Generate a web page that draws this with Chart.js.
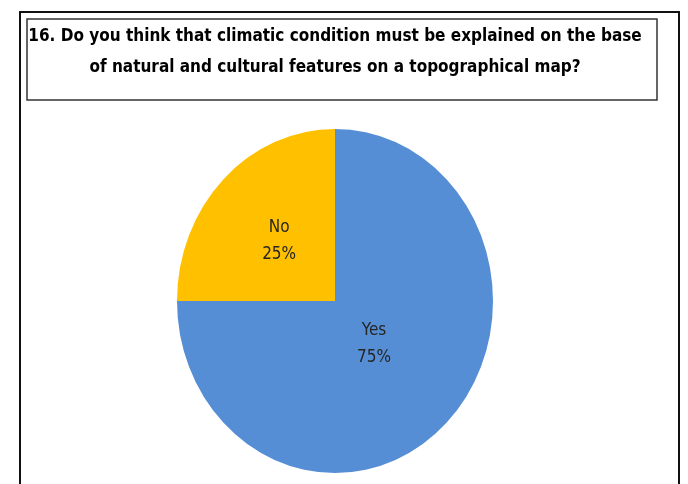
<!DOCTYPE html>
<html>
<head>
<meta charset="utf-8">
<script src="https://cdn.jsdelivr.net/npm/chart.js@4/dist/chart.umd.min.js"></script>
<style>
  body { margin: 0; background: #fff; }
  canvas { display: block; }
</style>
</head>
<body>
<canvas id="pieChart" width="688" height="484"></canvas>
<script>
var labels = ['Yes', 'No'];
var values = [75, 25];
var colors = ['#558ed5', '#ffc000'];
var titleLines = [
    '16. Do you think that climatic condition must be explained on the base',
    'of natural and cultural features on a topographical map?'
];

var FONT = '"Liberation Sans Narrow", "DejaVu Sans Condensed", sans-serif';
var yStretch = 172 / 158;

// frame + title box
var framePlugin = {
    id: 'frame',
    beforeDraw: function(chart) {
        var c = chart.ctx;
        c.save();
        c.fillStyle = '#fff';
        c.fillRect(0, 0, chart.width, chart.height);
        c.strokeStyle = '#111';
        c.lineWidth = 2;
        c.strokeRect(20, 12, 659, 480);
        c.strokeStyle = '#333';
        c.lineWidth = 1.5;
        c.strokeRect(27, 19, 630, 81);
        c.fillStyle = '#000';
        c.font = 'bold 17px ' + FONT;
        c.textAlign = 'center';
        c.textBaseline = 'middle';
        c.fillText(titleLines[0], 335, 37);
        c.fillText(titleLines[1], 335, 68);
        c.restore();
    }
};

// pie in the picture is a little taller than wide
var stretchPlugin = {
    id: 'stretch',
    beforeDatasetsDraw: function(chart) {
        var arc = chart.getDatasetMeta(0).data[0];
        var c = chart.ctx;
        c.save();
        c.translate(arc.x, arc.y);
        c.scale(1, yStretch);
        c.translate(-arc.x, -arc.y);
    },
    afterDatasetsDraw: function(chart) {
        chart.ctx.restore();
    }
};

var labelPlugin = {
    id: 'sliceLabels',
    afterDatasetsDraw: function(chart) {
        var c = chart.ctx;
        var meta = chart.getDatasetMeta(0);
        var total = values.reduce(function(a, b) { return a + b; }, 0);
        var fracs = [0.35, 0.5];
        c.save();
        c.fillStyle = '#262626';
        c.font = '17px ' + FONT;
        c.textAlign = 'center';
        c.textBaseline = 'middle';
        meta.data.forEach(function(arc, i) {
            var mid = (arc.startAngle + arc.endAngle) / 2;
            var r = arc.outerRadius * fracs[i];
            var x = arc.x + Math.cos(mid) * r;
            var y = arc.y + Math.sin(mid) * r * yStretch;
            var pct = Math.round(values[i] / total * 100) + '%';
            c.fillText(labels[i], x, y - 13);
            c.fillText(pct, x, y + 14);
        });
        c.restore();
    }
};

new Chart(document.getElementById('pieChart'), {
    type: 'pie',
    data: {
        labels: labels,
        datasets: [{
            data: values,
            backgroundColor: colors,
            borderWidth: 0
        }]
    },
    options: {
        responsive: false,
        animation: false,
        layout: {
            padding: { left: 177, right: 195, top: 143, bottom: 25 }
        },
        plugins: {
            legend: { display: false },
            title: { display: false },
            tooltip: { enabled: false }
        }
    },
    plugins: [framePlugin, stretchPlugin, labelPlugin]
});
</script>
</body>
</html>
